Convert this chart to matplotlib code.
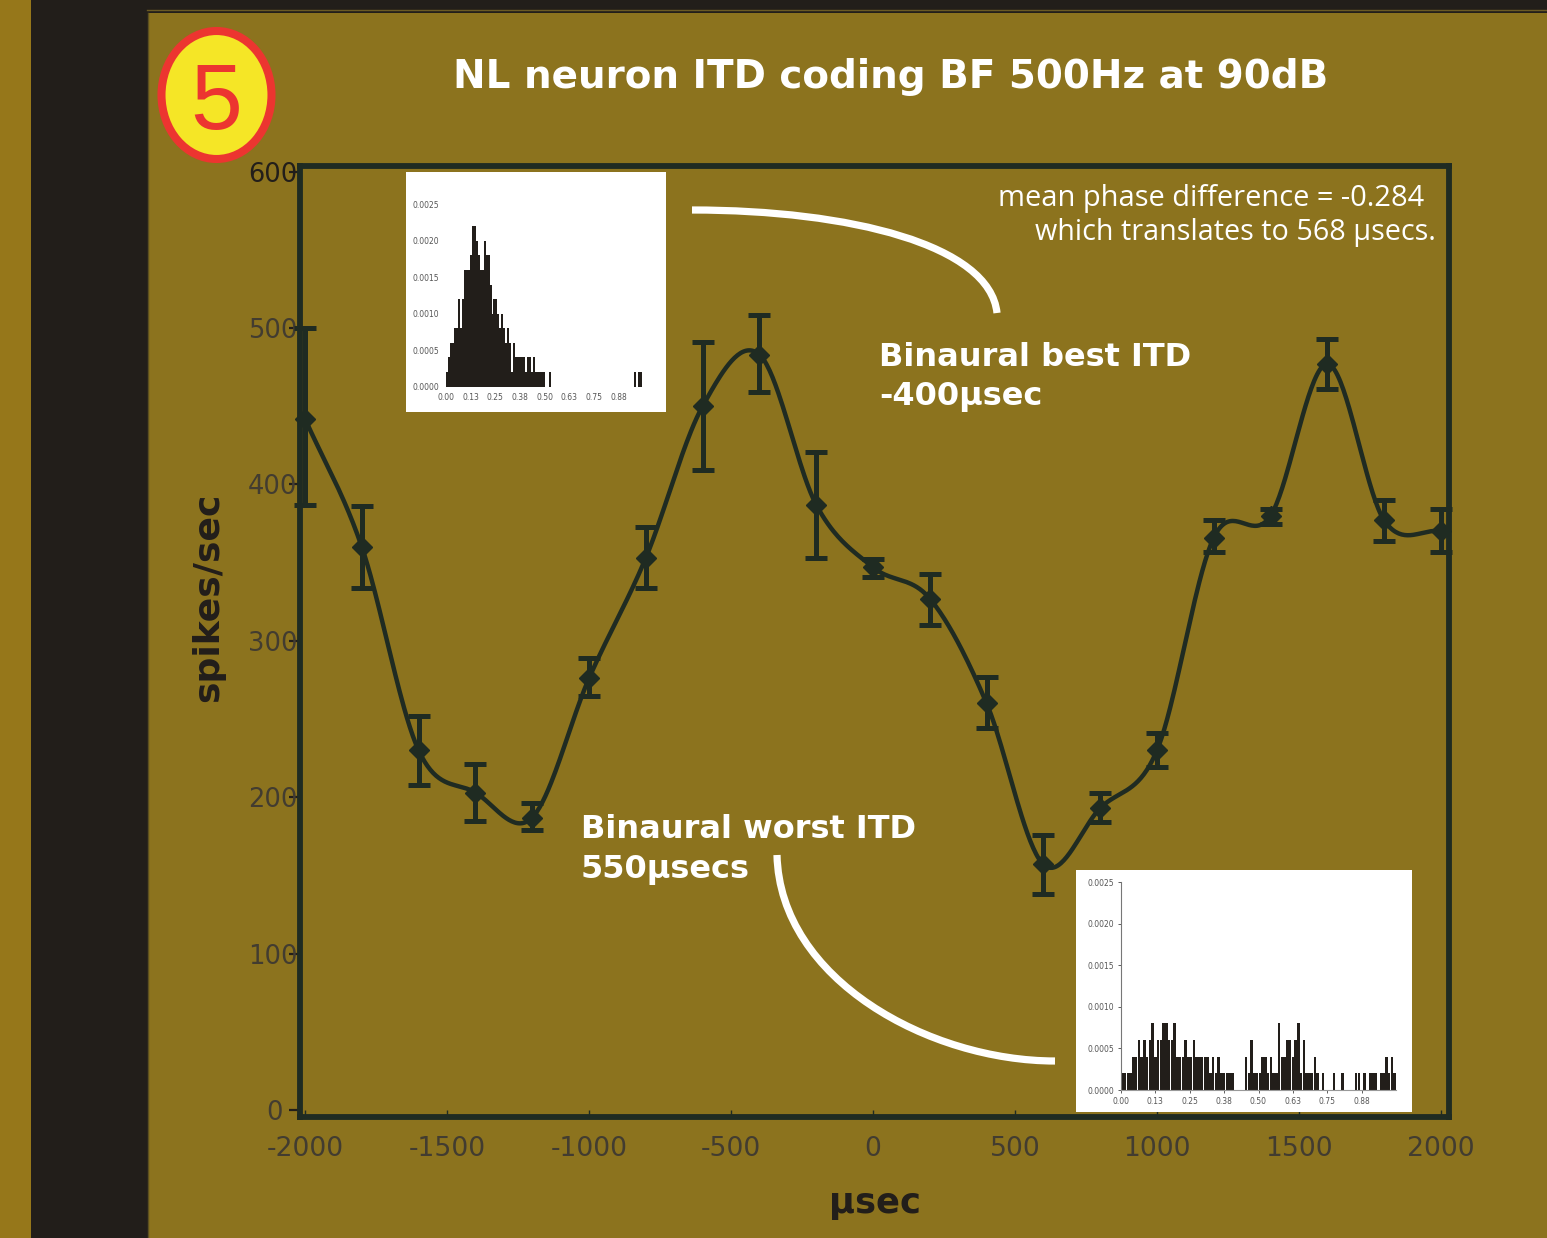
import numpy as np
import matplotlib
matplotlib.use('Agg')
import matplotlib.pyplot as plt
from matplotlib.patches import Ellipse, PathPatch, Rectangle
from matplotlib.path import Path

plt.rcParams['font.family'] = 'DejaVu Sans'
plt.rcParams['axes.unicode_minus'] = False

W, H = 1547, 1238

# main tuning curve
itd = [-2000, -1800, -1600, -1400, -1200, -1000, -800, -600, -400, -200, 0,
       200, 400, 600, 800, 1000, 1200, 1400, 1600, 1800, 2000]
rate = [442, 360, 230, 203, 187, 276, 353, 450, 483, 387, 347,
        327, 260, 157, 193, 230, 366, 380, 477, 377, 370]
rate_hi = [500, 386, 252, 221, 196, 289, 373, 491, 508, 421, 352,
           343, 277, 176, 203, 241, 377, 384, 493, 390, 384]
rate_lo = [387, 334, 208, 185, 179, 265, 334, 409, 459, 353, 341,
           310, 244, 138, 184, 219, 357, 375, 461, 364, 357]

x_ticks = [-2000, -1500, -1000, -500, 0, 500, 1000, 1500, 2000]
y_ticks = [0, 100, 200, 300, 400, 500, 600]

# phase histograms, counts per 0.01 bin, one count = 0.0002
best_counts = [1, 2, 3, 3, 4, 4, 6, 4, 6, 8, 8, 8, 9, 11, 11, 10, 9, 8, 8, 10,
               9, 9, 7, 5, 6, 6, 5, 4, 5, 4, 3, 4, 3, 1, 3, 2, 2, 2, 2, 2,
               1, 2, 2, 1, 2, 1, 1, 1, 1, 1, 0, 0, 1, 0, 0, 0, 0, 0, 0, 0,
               0, 0, 0, 0, 0, 0, 0, 0, 0, 0, 0, 0, 0, 0, 0, 0, 0, 0, 0, 0,
               0, 0, 0, 0, 0, 0, 0, 0, 0, 0, 0, 0, 0, 0, 0, 1, 0, 1, 1]
worst_counts = [1, 1, 1, 1, 2, 2, 3, 2, 3, 2, 3, 4, 2, 3, 3, 4, 4, 3, 3, 4,
                2, 2, 2, 3, 2, 2, 3, 2, 2, 2, 2, 2, 1, 2, 1, 2, 1, 1, 1, 1,
                1, 0, 0, 0, 0, 2, 1, 3, 1, 1, 1, 2, 2, 1, 2, 1, 1, 4, 2, 2,
                3, 3, 2, 3, 4, 1, 3, 1, 1, 1, 2, 1, 0, 1, 0, 0, 0, 1, 0, 0,
                1, 0, 0, 0, 0, 1, 1, 0, 1, 0, 1, 1, 1, 0, 1, 1, 2, 1, 2, 1]
hist_xlabels = ['0.00', '0.13', '0.25', '0.38', '0.50', '0.63', '0.75', '0.88']
hist_ylabels = ['0.0000', '0.0005', '0.0010', '0.0015', '0.0020', '0.0025']

DARK = '#221E1A'
LINE = '#1F2B22'
PANEL = '#8C731E'
GOLD = '#96771A'


def axes_px(fig, left, top, right, bottom, **kw):
    return fig.add_axes([left / W, 1 - bottom / H, (right - left) / W, (bottom - top) / H], **kw)


def smooth_curve(x, y, per_segment=40):
    # Catmull-Rom style curve through the points, stays close like the original spline
    x = np.asarray(x, float)
    y = np.asarray(y, float)
    slope = np.gradient(y, x)
    xs, ys = [], []
    for i in range(len(x) - 1):
        t = np.linspace(0, 1, per_segment)
        h = x[i + 1] - x[i]
        ys.append((2 * t ** 3 - 3 * t ** 2 + 1) * y[i] + (t ** 3 - 2 * t ** 2 + t) * h * slope[i]
                  + (-2 * t ** 3 + 3 * t ** 2) * y[i + 1] + (t ** 3 - t ** 2) * h * slope[i + 1])
        xs.append(x[i] + t * h)
    return np.concatenate(xs), np.concatenate(ys)


def draw_hist(fig, box, counts, spines, bar_width):
    ax = axes_px(fig, *box, zorder=4)
    ax.patch.set_alpha(0)
    edges = np.arange(len(counts)) * 0.01
    ax.bar(edges, np.array(counts) * 0.0002, width=bar_width, align='edge', color=DARK, linewidth=0)
    ax.set_xlim(0, 1)
    ax.set_ylim(0, 0.0025)
    ax.set_xticks(np.arange(8) * 0.125, hist_xlabels)
    ax.set_yticks(np.arange(6) * 0.0005, hist_ylabels)
    ax.tick_params(labelsize=5.5, labelcolor='#555555', pad=3 if spines else 5,
                   length=2 if spines else 0, width=0.6, color='#444444')
    for s in ax.spines.values():
        s.set_visible(False)
    if spines:
        ax.spines['left'].set_visible(True)
        ax.spines['bottom'].set_visible(True)
        ax.spines['left'].set_color('#777777')
        ax.spines['bottom'].set_color('#999999')
    return ax


fig = plt.figure(figsize=(W / 100, H / 100), dpi=100)

# page background and annotations are placed in pixel coordinates
bg = fig.add_axes([0, 0, 1, 1], zorder=0)
bg.set_xlim(0, W)
bg.set_ylim(H, 0)
bg.axis('off')
bg.add_patch(Rectangle((0, 0), W, H, color=DARK, lw=0))
bg.add_patch(Rectangle((0, 0), 31, H, color=GOLD, lw=0))
bg.add_patch(Rectangle((148, 13), W - 148, H - 13, color=PANEL, lw=0))
bg.plot([147, W], [10, 10], color='#6b5a24', lw=1)
bg.plot([147.5, 147.5], [13, H], color='#5c5020', lw=1)

# main chart
ax = axes_px(fig, 300, 166, 1449, 1117, zorder=1)
ax.patch.set_alpha(0)
ax.plot(*smooth_curve(itd, rate), color=LINE, lw=3.2, clip_on=False, zorder=3)
ax.errorbar(itd, rate, yerr=[np.array(rate) - np.array(rate_lo), np.array(rate_hi) - np.array(rate)],
            fmt='D', color=LINE, ms=10, elinewidth=3.6, capsize=8, capthick=3.6,
            clip_on=False, zorder=4)
ax.set_xlim((300 - 873) / 0.284, (1449 - 873) / 0.284)
ax.set_ylim((1110 - 1117) / 1.564, (1110 - 166) / 1.564)
ax.set_xticks(x_ticks)
ax.set_yticks(y_ticks)
ax.tick_params(axis='x', direction='in', length=5, width=1, color=LINE, labelsize=19.2,
               labelcolor='#423C30', pad=14)
ax.tick_params(axis='y', direction='out', length=8, width=1.6, color=DARK, labelsize=18.5,
               labelcolor='#423C30', pad=-6)
ax.get_yticklabels()[-1].set_color(DARK)
ax.yaxis.get_major_ticks()[0].set_pad(4.3)
for s in ax.spines.values():
    s.set_linewidth(4.2)
    s.set_color(LINE)

over = fig.add_axes([0, 0, 1, 1], zorder=3)
over.patch.set_alpha(0)
over.set_xlim(0, W)
over.set_ylim(H, 0)
over.axis('off')

over.add_patch(Ellipse((216.5, 95), 110, 128, facecolor='#F5E626', edgecolor='#EC3530', lw=5.8))
over.text(216, 105, '5', color='#EC3530', fontsize=67, family='Liberation Sans', ha='center', va='center')

over.text(891, 88, 'NL neuron ITD coding BF 500Hz at 90dB', color='white', fontsize=28,
          fontweight='bold', ha='center', va='baseline')
over.text(998, 206, 'mean phase difference = -0.284', color='white', fontsize=20.9,
          family='Open Sans', ha='left', va='baseline')
over.text(1035, 240, 'which translates to 568 µsecs.', color='white', fontsize=20.7,
          family='Open Sans', ha='left', va='baseline')
over.text(879, 366, 'Binaural best ITD', color='white', fontsize=23, fontweight='bold', va='baseline')
over.text(879, 405, '-400µsec', color='white', fontsize=23, fontweight='bold', va='baseline')
over.text(581, 838, 'Binaural worst ITD', color='white', fontsize=23, fontweight='bold', va='baseline')
over.text(581, 878, '550µsecs', color='white', fontsize=23, fontweight='bold', va='baseline')
over.text(208, 597, 'spikes/sec', color=DARK, fontsize=26, fontweight='bold', rotation=90,
          ha='center', va='center')
over.text(875, 1203, 'µsec', color=DARK, fontsize=25.5, fontweight='bold', ha='center', va='center')

arc_codes = [Path.MOVETO, Path.CURVE4, Path.CURVE4, Path.CURVE4]
over.add_patch(PathPatch(Path([(692, 210), (850, 210), (990, 245), (997, 313)], arc_codes),
                         fc='none', ec='white', lw=5.2, capstyle='butt'))
over.add_patch(PathPatch(Path([(777, 855), (780, 980), (930, 1061), (1055, 1061)], arc_codes),
                         fc='none', ec='white', lw=5.2, capstyle='butt'))

over.add_patch(Rectangle((406, 172), 260, 240, color='white', lw=0))
over.add_patch(Rectangle((1076, 870), 336, 242, color='white', lw=0))

draw_hist(fig, (446, 204.5, 643.5, 386.5), best_counts, False, 0.0105)
draw_hist(fig, (1121, 882, 1396, 1090), worst_counts, True, 0.0095)

fig.savefig('out.png', dpi=100)
